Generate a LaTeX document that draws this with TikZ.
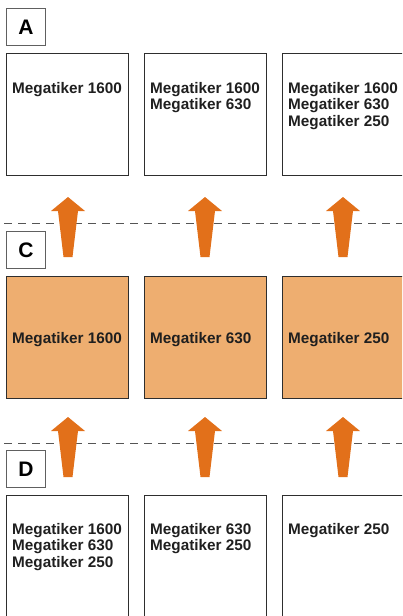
\documentclass[tikz,border=0pt]{standalone}
\usepackage{fontspec}
\setmainfont{Liberation Sans}
\definecolor{boxline}{HTML}{2E2E2E}
\definecolor{lblline}{HTML}{606060}
\definecolor{orangefill}{HTML}{EEAE70}
\definecolor{arroworange}{HTML}{E2701A}
\definecolor{dashgray}{HTML}{555555}
\begin{document}
\begin{tikzpicture}[x=1pt,y=-1pt,
  panel/.style={draw=boxline,line width=0.9pt,minimum width=122pt,minimum height=122pt,inner sep=0pt,outer sep=0pt,anchor=north west},
  lbl/.style={draw=lblline,line width=0.9pt,minimum width=39pt,minimum height=37pt,inner sep=0pt,font=\bfseries\fontsize{21}{21}\selectfont,anchor=north west},
  txt/.style={anchor=north west,inner sep=0pt,align=left,font=\bfseries\fontsize{15.3}{16.7}\selectfont,text=black!88},
  sepline/.style={draw=dashgray,line width=0.9pt,dash pattern=on 8pt off 6pt},
  uparrow/.style={fill=arroworange,draw=none}
]
\useasboundingbox (0,0) rectangle (402,616);
\clip (0,0) rectangle (402,616);
% dashed separators
\coordinate (d1l) at (4,223); \coordinate (d1r) at (402,223);
\coordinate (d2l) at (4,443); \coordinate (d2r) at (402,443);
\draw[sepline] (d1l) -- (d1r);
\draw[sepline] (d2l) -- (d2r);
% labels
\node[lbl] (LA) at (6,8) {A};
\node[lbl] (LC) at (6,231) {C};
\node[lbl] (LD) at (6,450) {D};
% row A
\node[panel] (A1) at (6,53) {};
\node[panel] (A2) at (144,53) {};
\node[panel,minimum width=130pt] (A3) at (282,53) {};
\node[txt] (tA1) at (12,81.8) {Megatiker 1600};
\node[txt] (tA2) at (150,81.8) {Megatiker 1600\\Megatiker 630};
\node[txt] (tA3) at (288,81.8) {Megatiker 1600\\Megatiker 630\\Megatiker 250};
% row C
\node[panel,fill=orangefill] (C1) at (6,276) {};
\node[panel,fill=orangefill] (C2) at (144,276) {};
\node[panel,fill=orangefill,minimum width=130pt] (C3) at (282,276) {};
\node[txt] (tC1) at (12,331.8) {Megatiker 1600};
\node[txt] (tC2) at (150,331.8) {Megatiker 630};
\node[txt] (tC3) at (288,331.8) {Megatiker 250};
% row D
\node[panel,minimum height=140pt] (D1) at (6,495) {};
\node[panel,minimum height=140pt] (D2) at (144,495) {};
\node[panel,minimum height=140pt,minimum width=130pt] (D3) at (282,495) {};
\node[txt] (tD1) at (12,522.8) {Megatiker 1600\\Megatiker 630\\Megatiker 250};
\node[txt] (tD2) at (150,522.8) {Megatiker 630\\Megatiker 250};
\node[txt] (tD3) at (288,522.8) {Megatiker 250};
% arrows
\foreach \cx in {68,205,343}{
  \foreach \ty in {197,417}{
    \fill[uparrow] (\cx,\ty) -- (\cx+17,\ty+14) -- (\cx+10,\ty+14) -- (\cx+4.5,\ty+60)
      -- (\cx-4.5,\ty+60) -- (\cx-10,\ty+14) -- (\cx-17,\ty+14) -- cycle;
  }
}
\end{tikzpicture}
\end{document}
